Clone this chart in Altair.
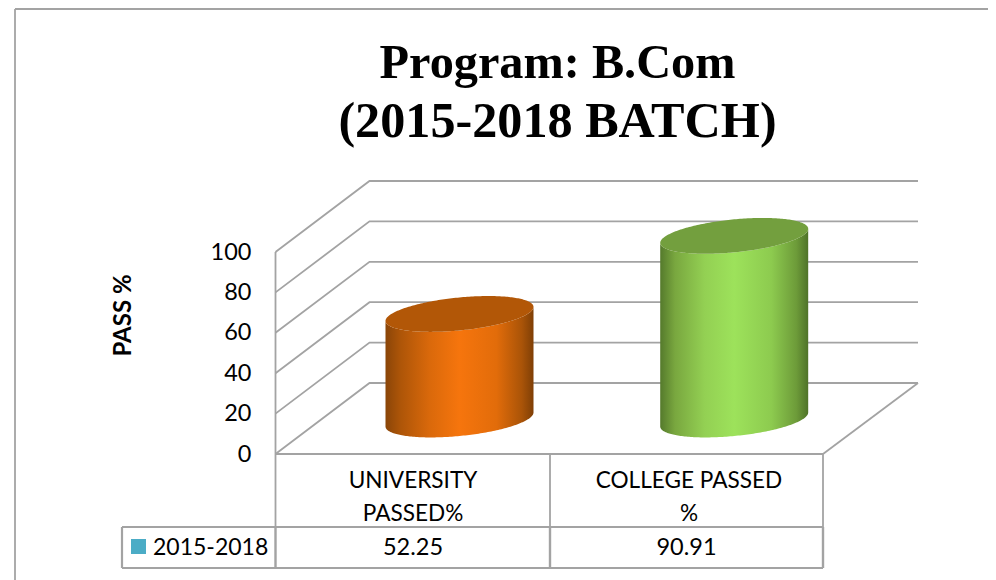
import numpy as np
import pandas as pd
import altair as alt

# ---- values
title_lines = ["Program: B.Com", "(2015-2018 BATCH)"]
categories = ["UNIVERSITY\nPASSED%", "COLLEGE PASSED\n%"]
series_name = "2015-2018"
series_values = [52.25, 90.91]
value_labels = ["52.25", "90.91"]
ticks = [0, 20, 40, 60, 80, 100]
y_title = "PASS %"

# ---- drawing geometry
FRONT0, UNIT = 454.0, 2.02      # pixel of value 0 on front wall, pixels per unit
PAGE_W, PAGE_H = 980, 572


def u(px):
    return (FRONT0 - px) / UNIT


X = alt.X("x:Q", scale=alt.Scale(domain=[8, 8 + PAGE_W], nice=False, zero=False), axis=None)
Y_SCALE = alt.Scale(domain=[u(8 + PAGE_H), u(8)], nice=False, zero=False)
Y_AXIS = alt.Axis(
    values=ticks, domain=False, ticks=False, grid=False, offset=-243, labelPadding=0,
    labelFont="Lato", labelFontSize=23.5, labelColor="#000000",
    title=y_title, titleFont="Lato", titleFontSize=24, titleFontWeight="bold",
    titleColor="#000000", titleX=-116, titleY=307, titleAngle=270,
)
Y = alt.Y("y:Q", scale=Y_SCALE, axis=Y_AXIS)
GRID = "#a3a3a3"
LEFT, BACKL, BACKR, FRONTR = 275.5, 369.5, 918.0, 823.0
DEPTH = 71 / UNIT
COLS = [LEFT, 550.0, FRONTR]
TBL_TOP, TBL_MID, TBL_BOT, TBL_LEFT = 454.0, 527.0, 568.0, 122.0

# grid walls
grid_rows = []
for t in ticks:
    for i, (xx, yy) in enumerate([(LEFT, t), (BACKL, t + DEPTH), (BACKR, t + DEPTH)]):
        grid_rows.append(dict(tick=t, i=i, x=xx, y=yy))
floor = [(BACKR, DEPTH), (FRONTR, 0)]
for i, (xx, yy) in enumerate(floor):
    grid_rows.append(dict(tick=-1, i=i, x=xx, y=yy))

grid = alt.Chart(pd.DataFrame(grid_rows)).mark_line(color=GRID, strokeWidth=1.8).encode(
    x=X, y=Y, detail="tick:N", order="i:Q",
)

# frame and table rules
rule_rows = [
    dict(x=15, x2=15, y=u(9), y2=u(8 + PAGE_H), w=1.8),
    dict(x=15, x2=8 + PAGE_W, y=u(9), y2=u(9), w=1.8),
    dict(x=LEFT, x2=LEFT, y=100, y2=u(TBL_MID), w=1.8),
    dict(x=LEFT, x2=FRONTR, y=u(TBL_TOP), y2=u(TBL_TOP), w=1.8),
    dict(x=COLS[1], x2=COLS[1], y=u(TBL_TOP), y2=u(TBL_MID), w=1.8),
    dict(x=FRONTR, x2=FRONTR, y=u(TBL_TOP), y2=u(TBL_MID), w=1.8),
    dict(x=TBL_LEFT, x2=FRONTR, y=u(TBL_MID), y2=u(TBL_MID), w=1.8),
    dict(x=TBL_LEFT, x2=FRONTR, y=u(TBL_BOT), y2=u(TBL_BOT), w=2.2),
    dict(x=TBL_LEFT, x2=TBL_LEFT, y=u(TBL_MID), y2=u(TBL_BOT), w=2.2),
    dict(x=LEFT, x2=LEFT, y=u(TBL_MID), y2=u(TBL_BOT), w=2.4),
    dict(x=COLS[1], x2=COLS[1], y=u(TBL_MID), y2=u(TBL_BOT), w=2.4),
    dict(x=FRONTR, x2=FRONTR, y=u(TBL_MID), y2=u(TBL_BOT), w=2.4),
]
rules = alt.Chart(pd.DataFrame(rule_rows)).mark_rule(color=GRID).encode(
    x=X, x2="x2:Q", y=Y, y2="y2:Q",
    strokeWidth=alt.StrokeWidth("w:Q", scale=None),
)


# cylinders
def gradient(stops):
    return alt.LinearGradient(
        gradient="linear", x1=0, x2=1, y1=0, y2=0,
        stops=[alt.GradientStop(offset=o, color=c) for o, c in stops],
    )


A, SHEAR, B = 74.0, 7.0, 16.5
BASE_CY = 419.5
CENTERS = [459.5, 734.2]
BODY = [
    [(0, "#8a4508"), (0.1, "#ad5508"), (0.3, "#da690b"), (0.5, "#f6750d"),
     (0.75, "#e26c0a"), (0.92, "#aa5408"), (1, "#7f3f06")],
    [(0, "#557a2c"), (0.1, "#79a73f"), (0.3, "#93d053"), (0.5, "#9de25b"),
     (0.75, "#8dcb4f"), (0.92, "#6d9b39"), (1, "#4f7328")],
]
TOPS = ["#b25707", "#739f3e"]

cylinders = []
s = np.cos(np.linspace(np.pi, 0, 121))
for cx, v, stops, top in zip(CENTERS, series_values, BODY, TOPS):
    xs = cx + A * s
    round_part = B * np.sqrt(1 - s ** 2)
    tilt = SHEAR * s
    base = u(BASE_CY)
    low_bottom = base + (tilt - round_part) / UNIT
    low_top = base + v + (tilt - round_part) / UNIT
    high_top = base + v + (tilt + round_part) / UNIT
    d = pd.DataFrame(dict(x=xs, y=low_bottom, y2=low_top, y3=high_top))
    cylinders.append(
        alt.Chart(d).mark_area(color=gradient(stops), interpolate="linear").encode(x=X, y=Y, y2="y2:Q")
    )
    cylinders.append(
        alt.Chart(d).mark_area(color=top, interpolate="linear").encode(
            x=X, y=alt.Y("y2:Q", scale=Y_SCALE, axis=Y_AXIS), y2="y3:Q"
        )
    )

# table text
label_df = pd.DataFrame(dict(text=categories, x=[413.0, 689.0], y=[u(488)] * 2))
cat_text = alt.Chart(label_df).mark_text(
    font="Lato", fontSize=22.6, color="#000000", align="center", baseline="alphabetic", lineBreak="\n", lineHeight=33
).encode(x=X, y=Y, text="text:N")
val_df = pd.DataFrame(dict(text=value_labels, x=[413.0, 686.5], y=[u(547.5)] * 2))
val_text = alt.Chart(val_df).mark_text(
    font="Lato", fontSize=23.5, color="#000000", align="center", baseline="middle"
).encode(x=X, y=Y, text="text:N")
leg_text = alt.Chart(pd.DataFrame(dict(text=[series_name], x=[153.0], y=[u(547.5)]))).mark_text(
    font="Lato", fontSize=23, color="#000000", align="left", baseline="middle"
).encode(x=X, y=Y, text="text:N")
leg_sym = alt.Chart(pd.DataFrame(dict(x=[138.5], y=[u(546.5)]))).mark_square(
    color="#4bacc6", size=225, opacity=1, filled=True
).encode(x=X, y=Y)

# title
title_df = pd.DataFrame(dict(text=title_lines, x=[557.5, 557.5], y=[u(78), u(137)], size=[48.3, 50.2]))
title_text = alt.Chart(title_df).mark_text(
    font="Liberation Serif", fontWeight="bold", color="#000000", align="center", baseline="alphabetic"
).encode(x=X, y=Y, text="text:N", size=alt.Size("size:Q", scale=None))

chart = alt.layer(
    grid, rules, *cylinders, cat_text, val_text, leg_text, leg_sym, title_text
).properties(
    width=PAGE_W, height=PAGE_H, padding=0, autosize=alt.AutoSizeParams(type="none"),
    background="#ffffff",
).configure_view(stroke=None)

chart.save("out.html", embed_options={"renderer": "svg", "actions": False})
